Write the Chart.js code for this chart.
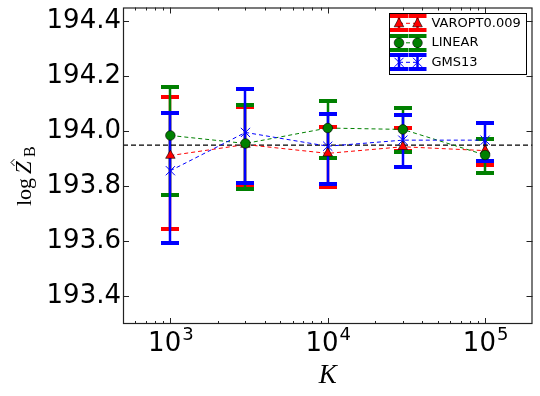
<!DOCTYPE html>
<html>
<head>
<meta charset="utf-8">
<script src="https://cdn.jsdelivr.net/npm/chart.js@4.4.0/dist/chart.umd.min.js"></script>
<style>
	html, body { margin: 0; padding: 0; background: #fff; }
	#chart { display: block; }
</style>
</head>
<body>
<canvas id="chart" width="540" height="396"></canvas>
<script>
/* Data */
var K = [1000, 3000, 10000, 30000, 100000];

var varoptMean = [193.912, 193.952, 193.920, 193.944, 193.930];
var varoptLow  = [193.645, 193.800, 193.798, 193.927, 193.878];
var varoptHigh = [194.124, 194.090, 194.015, 194.013, 193.974];

var linearMean = [193.985, 193.956, 194.012, 194.007, 193.914];
var linearLow  = [193.767, 193.790, 193.903, 193.926, 193.850];
var linearHigh = [194.161, 194.097, 194.110, 194.084, 193.974];

var gmsMean = [193.857, 193.996, 193.946, 193.968, 193.968];
var gmsLow  = [193.594, 193.813, 193.809, 193.871, 193.892];
var gmsHigh = [194.066, 194.153, 194.063, 194.058, 194.030];

var refLevel = 193.95;

var seriesNames = ['VAROPT0.009', 'LINEAR', 'GMS13'];

var xMin = 500, xMax = 200000;
var yMin = 193.3, yMax = 194.45;
var xTicks = [1000, 10000, 100000];
var xTickExp = ['3', '4', '5'];
var yTicks = [193.4, 193.6, 193.8, 194.0, 194.2, 194.4];

/* Styles */
var RED = '#ff0000', GREEN = '#008000', BLUE = '#0000ff';

var series = [
	{ name: seriesNames[0], color: RED, mean: varoptMean, low: varoptLow, high: varoptHigh, marker: 'triangle' },
	{ name: seriesNames[1], color: GREEN, mean: linearMean, low: linearLow, high: linearHigh, marker: 'circle' },
	{ name: seriesNames[2], color: BLUE, mean: gmsMean, low: gmsLow, high: gmsHigh, marker: 'x' }
];

var toPoints = function(xs, ys){
	return xs.map(function(x, i){ return { x: x, y: ys[i] }; });
};

var CAP = 9;

var drawErrorBar = function(ctx, px, top, bot, color){
	ctx.strokeStyle = color;
	ctx.lineWidth = 2.5;
	ctx.beginPath();
	ctx.moveTo(px, top);
	ctx.lineTo(px, bot);
	ctx.stroke();
	ctx.lineWidth = 4;
	ctx.beginPath();
	ctx.moveTo(px - CAP, top); ctx.lineTo(px + CAP, top);
	ctx.moveTo(px - CAP, bot); ctx.lineTo(px + CAP, bot);
	ctx.stroke();
};

var drawMarker = function(ctx, kind, x, y, color){
	ctx.save();
	ctx.setLineDash([]);
	if (kind === 'circle'){
		ctx.fillStyle = color;
		ctx.strokeStyle = '#000';
		ctx.lineWidth = 0.6;
		ctx.beginPath();
		ctx.arc(x, y, 4.8, 0, Math.PI * 2);
		ctx.fill();
		ctx.stroke();
	} else if (kind === 'triangle'){
		ctx.fillStyle = color;
		ctx.strokeStyle = '#000';
		ctx.lineWidth = 0.6;
		ctx.beginPath();
		ctx.moveTo(x, y - 5.5);
		ctx.lineTo(x + 4.8, y + 3.5);
		ctx.lineTo(x - 4.8, y + 3.5);
		ctx.closePath();
		ctx.fill();
		ctx.stroke();
	} else {
		ctx.strokeStyle = color;
		ctx.lineWidth = 1;
		ctx.beginPath();
		ctx.moveTo(x - 4.5, y - 4.5); ctx.lineTo(x + 4.5, y + 4.5);
		ctx.moveTo(x - 4.5, y + 4.5); ctx.lineTo(x + 4.5, y - 4.5);
		ctx.stroke();
	}
	ctx.restore();
};

/* Error bars under the lines and markers */
var errorBarPlugin = {
	id: 'errorBars',
	beforeDatasetsDraw: function(chart){
		var ctx = chart.ctx, xs = chart.scales.x, ys = chart.scales.y;
		ctx.save();
		series.forEach(function(s){
			for (var i = 0; i < K.length; i++){
				var px = Math.round(xs.getPixelForValue(K[i]));
				drawErrorBar(ctx, px, Math.round(ys.getPixelForValue(s.high[i])), Math.round(ys.getPixelForValue(s.low[i])), s.color);
			}
		});
		ctx.restore();
	}
};

/* Frame, inward ticks, x labels, axis titles, legend */
var decorPlugin = {
	id: 'decor',
	afterDraw: function(chart){
		var ctx = chart.ctx, a = chart.chartArea;
		var xs = chart.scales.x, ys = chart.scales.y;
		ctx.save();

		// frame
		ctx.strokeStyle = '#222';
		ctx.lineWidth = 1.2;
		ctx.strokeRect(a.left + 0.5, a.top + 0.5, a.right - a.left - 1, a.bottom - a.top - 1);

		// y ticks (left and right, inward)
		ctx.lineWidth = 1;
		ctx.beginPath();
		yTicks.forEach(function(v){
			var py = Math.round(ys.getPixelForValue(v)) + 0.5;
			ctx.moveTo(a.left, py); ctx.lineTo(a.left + 6, py);
			ctx.moveTo(a.right, py); ctx.lineTo(a.right - 6, py);
		});
		// x ticks, major and minor (top and bottom, inward)
		for (var dec = 100; dec <= 100000; dec *= 10){
			for (var m = 1; m <= 9; m++){
				var v = m * dec;
				if (v <= xMin || v >= xMax) continue;
				var len = m === 1 ? 6 : 3;
				var px = Math.round(xs.getPixelForValue(v)) + 0.5;
				ctx.moveTo(px, a.bottom); ctx.lineTo(px, a.bottom - len);
				ctx.moveTo(px, a.top); ctx.lineTo(px, a.top + len);
			}
		}
		ctx.stroke();

		// x tick labels 10^n
		ctx.fillStyle = '#000';
		ctx.textBaseline = 'alphabetic';
		ctx.textAlign = 'left';
		xTicks.forEach(function(v, i){
			var px = xs.getPixelForValue(v);
			ctx.font = '26px "DejaVu Sans"';
			var wBase = ctx.measureText('10').width;
			ctx.font = '18px "DejaVu Sans"';
			var wExp = ctx.measureText(xTickExp[i]).width;
			var x0 = px - (wBase + wExp) / 2;
			ctx.font = '26px "DejaVu Sans"';
			ctx.fillText('10', x0, 351);
			ctx.font = '18px "DejaVu Sans"';
			ctx.fillText(xTickExp[i], x0 + wBase + 1, 340);
		});

		// x title
		ctx.font = 'italic 27px "Liberation Serif"';
		ctx.textAlign = 'center';
		ctx.fillText('K', (a.left + a.right) / 2, 383);

		// y title: log Z-hat sub B
		ctx.save();
		ctx.translate(31, 206);
		ctx.rotate(-Math.PI / 2);
		ctx.textAlign = 'left';
		ctx.font = '22px "Liberation Serif"';
		ctx.fillText('log', 0, 0);
		var zx = ctx.measureText('log').width + 4;
		ctx.font = 'italic 23px "Liberation Serif"';
		ctx.fillText('Z', zx, 0);
		var zw = ctx.measureText('Z').width;
		ctx.strokeStyle = '#000';
		ctx.lineWidth = 1;
		ctx.beginPath();
		var hx = zx + zw / 2 + 5;
		ctx.moveTo(hx - 3.5, -16.5); ctx.lineTo(hx, -20); ctx.lineTo(hx + 3.5, -16.5);
		ctx.stroke();
		ctx.font = '16px "Liberation Serif"';
		ctx.fillText('B', zx + zw + 4, 4);
		ctx.restore();

		// legend
		var lx = 389.5, ly = 13.5, lw = 137, lh = 61;
		ctx.fillStyle = '#fff';
		ctx.fillRect(lx, ly, lw, lh);
		ctx.strokeStyle = '#000';
		ctx.lineWidth = 1;
		ctx.strokeRect(lx, ly, lw, lh);
		series.forEach(function(s, i){
			var yc = 23.3 + i * 19.5;
			var m1 = 399, m2 = 417.5;
			drawErrorBar(ctx, m1, Math.round(yc - 7), Math.round(yc + 7), s.color);
			drawErrorBar(ctx, m2, Math.round(yc - 7), Math.round(yc + 7), s.color);
			ctx.strokeStyle = s.color;
			ctx.lineWidth = 1;
			ctx.setLineDash([4, 3]);
			ctx.beginPath();
			ctx.moveTo(m1, yc); ctx.lineTo(m2, yc);
			ctx.stroke();
			ctx.setLineDash([]);
			drawMarker(ctx, s.marker, m1, yc, s.color);
			drawMarker(ctx, s.marker, m2, yc, s.color);
			ctx.fillStyle = '#000';
			ctx.font = '13px "DejaVu Sans"';
			ctx.textAlign = 'left';
			ctx.textBaseline = 'middle';
			ctx.fillText(s.name, 431.5, yc);
		});

		ctx.restore();
	}
};

var datasets = series.map(function(s, i){
	return {
		label: s.name,
		data: toPoints(K, s.mean),
		borderColor: s.color,
		backgroundColor: s.color,
		borderWidth: 1,
		borderDash: [4, 3],
		tension: 0,
		pointStyle: s.marker === 'x' ? 'crossRot' : s.marker,
		pointRadius: s.marker === 'x' ? 6.5 : (s.marker === 'triangle' ? 5.5 : 4.8),
		pointBackgroundColor: s.color,
		pointBorderColor: s.marker === 'x' ? s.color : '#000',
		pointBorderWidth: s.marker === 'x' ? 1 : 0.6,
		order: 2 - i
	};
});
datasets.push({
	label: 'reference',
	data: [{ x: xMin, y: refLevel }, { x: xMax, y: refLevel }],
	borderColor: '#000',
	borderWidth: 1.2,
	borderDash: [5, 3],
	pointRadius: 0,
	order: 3
});

var chart = new Chart(document.getElementById('chart'), {
	type: 'line',
	data: { datasets: datasets },
	options: {
		responsive: false,
		animation: false,
		devicePixelRatio: 1,
		layout: { padding: { top: 4, right: 7.5, left: 0, bottom: 0 } },
		plugins: { legend: { display: false }, tooltip: { enabled: false } },
		scales: {
			x: {
				type: 'logarithmic',
				min: xMin,
				max: xMax,
				grid: { display: false, drawTicks: false },
				border: { display: false },
				ticks: { display: false },
				afterBuildTicks: function(s){ s.ticks = xTicks.map(function(v){ return { value: v }; }); },
				afterFit: function(s){ s.height = 72; s.paddingLeft = 0; s.paddingRight = 0; }
			},
			y: {
				type: 'linear',
				min: yMin,
				max: yMax,
				grid: { display: false, drawTicks: false },
				border: { display: false },
				ticks: {
					color: '#000',
					padding: 2,
					font: { family: 'DejaVu Sans', size: 26 },
					callback: function(v){ return Number(v).toFixed(1); }
				},
				afterBuildTicks: function(s){ s.ticks = yTicks.map(function(v){ return { value: v }; }); },
				afterFit: function(s){ s.width = 123; s.paddingTop = 0; s.paddingBottom = 0; }
			}
		}
	},
	plugins: [errorBarPlugin, decorPlugin]
});
</script>
</body>
</html>
